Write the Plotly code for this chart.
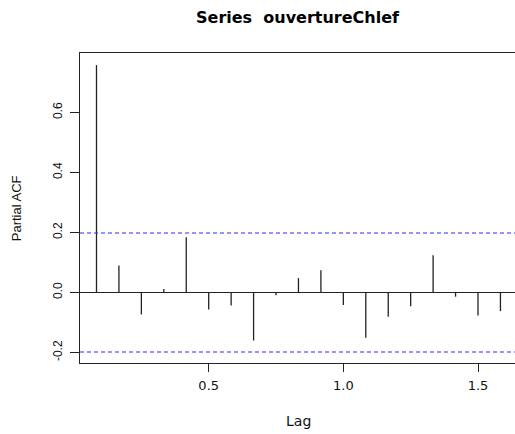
import plotly.graph_objects as go

# Data (monthly series, lag in years)
lag_index = list(range(1, 20))
lags = [k / 12 for k in lag_index]
pacf = [0.758, 0.090, -0.073, 0.012, 0.184, -0.057, -0.043, -0.160, -0.009,
        0.048, 0.074, -0.042, -0.151, -0.081, -0.046, 0.124, -0.014, -0.077, -0.062]
clim = 0.1983
x_ticks = [0.5, 1.0, 1.5]
x_tick_text = ["0.5", "1.0", "1.5"]
y_ticks = [-0.2, 0.0, 0.2, 0.4, 0.6]
y_tick_text = ["-0.2", "0.0", "0.2", "0.4", "0.6"]

x_range = [0.0221, 1.6374]
y_range = [-0.2350, 0.7984]

# vertical segments (type = "h" in R)
xs, ys = [], []
for l, v in zip(lags, pacf):
    xs += [l, l, None]
    ys += [0, v, None]

fig = go.Figure()
# zero line
fig.add_trace(go.Scatter(x=x_range, y=[0, 0], mode="lines",
                         line=dict(color="#222222", width=1),
                         hoverinfo="skip", showlegend=False, cliponaxis=False))
fig.add_trace(go.Scatter(x=xs, y=ys, mode="lines",
                         line=dict(color="#222222", width=1.3),
                         hoverinfo="skip", showlegend=False))
# confidence limits
for c in (clim, -clim):
    fig.add_trace(go.Scatter(x=x_range, y=[c, c], mode="lines",
                             line=dict(color="#2a2aff", width=1.1, dash="4px,3px"),
                             hoverinfo="skip", showlegend=False))

line_col = "#222222"
fig.update_layout(
    width=515, height=434,
    margin=dict(l=80, r=0, t=53, b=71),
    paper_bgcolor="white", plot_bgcolor="white",
    showlegend=False,
    xaxis=dict(range=x_range, showgrid=False, zeroline=False,
               showline=True, linecolor=line_col, linewidth=1, mirror=True,
               tickvals=x_ticks, ticktext=x_tick_text,
               ticks="outside", ticklen=8, tickcolor=line_col, tickwidth=1,
               tickfont=dict(family="DejaVu Sans", size=13, color="#111"),
               ticklabelstandoff=2),
    yaxis=dict(range=y_range, showgrid=False, zeroline=False,
               showline=True, linecolor=line_col, linewidth=1, mirror=False,
               tickvals=y_ticks, ticktext=y_tick_text, tickangle=-90,
               ticks="outside", ticklen=9, tickcolor=line_col, tickwidth=1,
               tickfont=dict(family="Liberation Sans", size=12, color="#111"),
               ticklabelstandoff=3),
)

x_center = 0.833
fig.add_annotation(text="<b>Series\u00a0 ouvertureChlef</b>", x=x_center, xref="x",
                   y=1.113, yref="paper", showarrow=False, xanchor="center", yanchor="middle",
                   font=dict(family="DejaVu Sans", size=16, color="#000"))
fig.add_annotation(text="Lag", x=x_center, xref="x", y=-0.187, yref="paper",
                   showarrow=False, xanchor="center", yanchor="middle",
                   font=dict(family="DejaVu Sans", size=14, color="#111"))
fig.add_annotation(text="Partial ACF", x=-0.147, xref="paper", y=0.281, yref="y",
                   showarrow=False, xanchor="center", yanchor="middle", textangle=-90,
                   font=dict(family="Liberation Sans", size=13, color="#111"))

fig.write_html("out.html")
